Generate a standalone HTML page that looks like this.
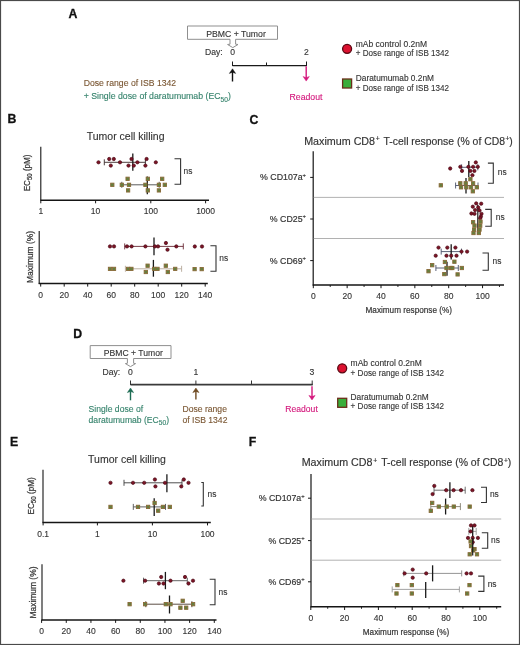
<!DOCTYPE html>
<html><head><meta charset="utf-8"><style>
html,body{margin:0;padding:0;background:#fff;}
svg{display:block;font-family:"Liberation Sans", sans-serif;filter:blur(0.3px);}
</style></head><body>
<svg width="520" height="645" viewBox="0 0 520 645">
<rect width="520" height="645" fill="#fff"/>
<rect x="0.5" y="0.5" width="519" height="644" fill="none" stroke="#4a4a4a" stroke-width="1.2"/>
<text x="68.6" y="17.8" font-size="12.3" fill="#111" stroke="#111" stroke-width="0.3" font-weight="bold">A</text>
<path d="M187.5 26 H277.5 V39.3 H235.6 V44.2 L238.0 44.5 L232.8 47.6 L227.6 44.5 L230.0 44.2 V39.3 H187.5 Z" fill="#fff" stroke="#8f8f8f" stroke-width="1" stroke-linejoin="miter"/>
<text x="236" y="36.5" font-size="8.7" fill="#333" stroke="#333" stroke-width="0.12" text-anchor="middle">PBMC + Tumor</text>
<text x="205" y="55.4" font-size="8.6" fill="#333" stroke="#333" stroke-width="0.12">Day:</text>
<text x="232.6" y="55.4" font-size="8.6" fill="#333" stroke="#333" stroke-width="0.12" text-anchor="middle">0</text>
<text x="306.5" y="55.4" font-size="8.6" fill="#333" stroke="#333" stroke-width="0.12" text-anchor="middle">2</text>
<line x1="232.5" y1="65.6" x2="306.5" y2="65.6" stroke="#1a1a1a" stroke-width="1.3"/>
<line x1="232.5" y1="61.5" x2="232.5" y2="66" stroke="#1a1a1a" stroke-width="1"/>
<line x1="266.5" y1="62.5" x2="266.5" y2="66" stroke="#1a1a1a" stroke-width="1"/>
<line x1="306.5" y1="61.5" x2="306.5" y2="66" stroke="#1a1a1a" stroke-width="1"/>
<line x1="232.5" y1="81.5" x2="232.5" y2="71.89999999999999" stroke="#111" stroke-width="1.4"/>
<path d="M232.5 68.8 L229.4 73.39999999999999 L232.5 72.2 L235.6 73.39999999999999 Z" fill="#111" stroke="#111" stroke-width="0.5" stroke-linejoin="miter"/>
<line x1="306.2" y1="66.3" x2="306.2" y2="78.0" stroke="#d4177c" stroke-width="1.4"/>
<path d="M306.2 81.1 L303.09999999999997 76.5 L306.2 77.69999999999999 L309.3 76.5 Z" fill="#d4177c" stroke="#d4177c" stroke-width="0.5" stroke-linejoin="miter"/>
<text x="289.6" y="99.8" font-size="8.7" fill="#d4177c" stroke="#d4177c" stroke-width="0.12">Readout</text>
<text x="83.7" y="85.8" font-size="8.9" fill="#7a5632" stroke="#7a5632" stroke-width="0.12" textLength="92.5" lengthAdjust="spacingAndGlyphs">Dose range of ISB 1342</text>
<text x="83.7" y="99.4" font-size="8.75" fill="#35836c" stroke="#35836c" stroke-width="0.12">+ Single dose of daratumumab (EC<tspan font-size="6.6" dy="2.1">50</tspan><tspan dy="-2.1">)</tspan></text>
<circle cx="347.1" cy="48.8" r="4.5" fill="#dc1230" stroke="#5a0812" stroke-width="1.3"/>
<rect x="342.6" y="79.0" width="9" height="9" fill="#3aae3a" stroke="#6a2e1a" stroke-width="1.3"/>
<text x="355.8" y="46.5" font-size="8.5" fill="#333" stroke="#333" stroke-width="0.12" textLength="71.3" lengthAdjust="spacingAndGlyphs">mAb control 0.2nM</text>
<text x="355.8" y="56.4" font-size="8.5" fill="#333" stroke="#333" stroke-width="0.12" textLength="93.3" lengthAdjust="spacingAndGlyphs">+ Dose range of ISB 1342</text>
<text x="355.8" y="80.6" font-size="8.5" fill="#333" stroke="#333" stroke-width="0.12" textLength="78.2" lengthAdjust="spacingAndGlyphs">Daratumumab 0.2nM</text>
<text x="355.8" y="90.5" font-size="8.5" fill="#333" stroke="#333" stroke-width="0.12" textLength="93.3" lengthAdjust="spacingAndGlyphs">+ Dose range of ISB 1342</text>
<text x="7.5" y="122.8" font-size="12.3" fill="#111" stroke="#111" stroke-width="0.3" font-weight="bold">B</text>
<text x="86.7" y="140" font-size="10.5" fill="#333" stroke="#333" stroke-width="0.12">Tumor cell killing</text>
<line x1="40.8" y1="146.8" x2="40.8" y2="200.5" stroke="#151515" stroke-width="1.1"/>
<line x1="40.3" y1="200.3" x2="209" y2="200.3" stroke="#151515" stroke-width="1.5"/>
<line x1="40.8" y1="200.3" x2="40.8" y2="203.3" stroke="#151515" stroke-width="1"/>
<text x="40.8" y="214.2" font-size="8.5" fill="#333" stroke="#333" stroke-width="0.12" text-anchor="middle">1</text>
<line x1="95.6" y1="200.3" x2="95.6" y2="203.3" stroke="#151515" stroke-width="1"/>
<text x="95.6" y="214.2" font-size="8.5" fill="#333" stroke="#333" stroke-width="0.12" text-anchor="middle">10</text>
<line x1="150.8" y1="200.3" x2="150.8" y2="203.3" stroke="#151515" stroke-width="1"/>
<text x="150.8" y="214.2" font-size="8.5" fill="#333" stroke="#333" stroke-width="0.12" text-anchor="middle">100</text>
<line x1="205.6" y1="200.3" x2="205.6" y2="203.3" stroke="#151515" stroke-width="1"/>
<text x="205.6" y="214.2" font-size="8.5" fill="#333" stroke="#333" stroke-width="0.12" text-anchor="middle">1000</text>
<text transform="translate(29.8,172.9) rotate(-90)" font-size="8.8" fill="#333" stroke="#333" stroke-width="0.22" text-anchor="middle" textLength="36.8" lengthAdjust="spacingAndGlyphs">EC<tspan font-size="6.6" dy="2.1">50</tspan><tspan dy="-2.1"> (pM)</tspan></text>
<line x1="104.3" y1="162.3" x2="145.4" y2="162.3" stroke="#3a2a2a" stroke-width="0.9"/>
<line x1="104.3" y1="159.3" x2="104.3" y2="165.3" stroke="#3a2a2a" stroke-width="0.9"/>
<line x1="145.4" y1="159.3" x2="145.4" y2="165.3" stroke="#3a2a2a" stroke-width="0.9"/>
<line x1="132.8" y1="153.4" x2="132.8" y2="170.8" stroke="#1a1a1a" stroke-width="1.3"/>
<circle cx="98.5" cy="162.3" r="1.65" fill="#7d1426" stroke="#4a0a16" stroke-width="0.7"/>
<circle cx="109.2" cy="159" r="1.65" fill="#7d1426" stroke="#4a0a16" stroke-width="0.7"/>
<circle cx="113.8" cy="159" r="1.65" fill="#7d1426" stroke="#4a0a16" stroke-width="0.7"/>
<circle cx="110.8" cy="165.6" r="1.65" fill="#7d1426" stroke="#4a0a16" stroke-width="0.7"/>
<circle cx="120" cy="162.3" r="1.65" fill="#7d1426" stroke="#4a0a16" stroke-width="0.7"/>
<circle cx="128.5" cy="165.6" r="1.65" fill="#7d1426" stroke="#4a0a16" stroke-width="0.7"/>
<circle cx="131.5" cy="159" r="1.65" fill="#7d1426" stroke="#4a0a16" stroke-width="0.7"/>
<circle cx="133.8" cy="165.6" r="1.65" fill="#7d1426" stroke="#4a0a16" stroke-width="0.7"/>
<circle cx="137.4" cy="162.3" r="1.65" fill="#7d1426" stroke="#4a0a16" stroke-width="0.7"/>
<circle cx="146.6" cy="159" r="1.65" fill="#7d1426" stroke="#4a0a16" stroke-width="0.7"/>
<circle cx="145.4" cy="165.6" r="1.65" fill="#7d1426" stroke="#4a0a16" stroke-width="0.7"/>
<circle cx="155.8" cy="162.3" r="1.65" fill="#7d1426" stroke="#4a0a16" stroke-width="0.7"/>
<line x1="121.8" y1="184.8" x2="159.2" y2="184.8" stroke="#4a4a4a" stroke-width="0.9"/>
<line x1="121.8" y1="181.8" x2="121.8" y2="187.8" stroke="#4a4a4a" stroke-width="0.9"/>
<line x1="159.2" y1="181.8" x2="159.2" y2="187.8" stroke="#4a4a4a" stroke-width="0.9"/>
<line x1="147.3" y1="176.4" x2="147.3" y2="194.2" stroke="#1a1a1a" stroke-width="1.3"/>
<rect x="110.65" y="183.15" width="3.3" height="3.3" fill="#64803f" stroke="#8a6a38" stroke-width="0.9"/>
<rect x="120.15" y="183.15" width="3.3" height="3.3" fill="#64803f" stroke="#8a6a38" stroke-width="0.9"/>
<rect x="127.35" y="183.15" width="3.3" height="3.3" fill="#64803f" stroke="#8a6a38" stroke-width="0.9"/>
<rect x="125.95" y="177.15" width="3.3" height="3.3" fill="#64803f" stroke="#8a6a38" stroke-width="0.9"/>
<rect x="126.45" y="188.75" width="3.3" height="3.3" fill="#64803f" stroke="#8a6a38" stroke-width="0.9"/>
<rect x="143.75" y="183.15" width="3.3" height="3.3" fill="#64803f" stroke="#8a6a38" stroke-width="0.9"/>
<rect x="146.15" y="177.15" width="3.3" height="3.3" fill="#64803f" stroke="#8a6a38" stroke-width="0.9"/>
<rect x="146.15" y="188.75" width="3.3" height="3.3" fill="#64803f" stroke="#8a6a38" stroke-width="0.9"/>
<rect x="157.25" y="183.15" width="3.3" height="3.3" fill="#64803f" stroke="#8a6a38" stroke-width="0.9"/>
<rect x="160.55" y="177.15" width="3.3" height="3.3" fill="#64803f" stroke="#8a6a38" stroke-width="0.9"/>
<rect x="163.15" y="183.15" width="3.3" height="3.3" fill="#64803f" stroke="#8a6a38" stroke-width="0.9"/>
<rect x="157.25" y="188.75" width="3.3" height="3.3" fill="#64803f" stroke="#8a6a38" stroke-width="0.9"/>
<path d="M174.5 158.7 H180.6 V184.3 H174.5" fill="none" stroke="#333" stroke-width="1.1"/>
<text x="183.5" y="173.9" font-size="8.4" fill="#333" stroke="#333" stroke-width="0.12">ns</text>
<line x1="39.2" y1="231" x2="39.2" y2="284" stroke="#151515" stroke-width="1.1"/>
<line x1="38.7" y1="283.6" x2="207.8" y2="283.6" stroke="#151515" stroke-width="1.5"/>
<line x1="40.7" y1="283.6" x2="40.7" y2="286.6" stroke="#151515" stroke-width="1"/>
<text x="40.7" y="297.6" font-size="8.5" fill="#333" stroke="#333" stroke-width="0.12" text-anchor="middle">0</text>
<line x1="64.2" y1="283.6" x2="64.2" y2="286.6" stroke="#151515" stroke-width="1"/>
<text x="64.2" y="297.6" font-size="8.5" fill="#333" stroke="#333" stroke-width="0.12" text-anchor="middle">20</text>
<line x1="87.7" y1="283.6" x2="87.7" y2="286.6" stroke="#151515" stroke-width="1"/>
<text x="87.7" y="297.6" font-size="8.5" fill="#333" stroke="#333" stroke-width="0.12" text-anchor="middle">40</text>
<line x1="111.2" y1="283.6" x2="111.2" y2="286.6" stroke="#151515" stroke-width="1"/>
<text x="111.2" y="297.6" font-size="8.5" fill="#333" stroke="#333" stroke-width="0.12" text-anchor="middle">60</text>
<line x1="134.7" y1="283.6" x2="134.7" y2="286.6" stroke="#151515" stroke-width="1"/>
<text x="134.7" y="297.6" font-size="8.5" fill="#333" stroke="#333" stroke-width="0.12" text-anchor="middle">80</text>
<line x1="158.2" y1="283.6" x2="158.2" y2="286.6" stroke="#151515" stroke-width="1"/>
<text x="158.2" y="297.6" font-size="8.5" fill="#333" stroke="#333" stroke-width="0.12" text-anchor="middle">100</text>
<line x1="181.7" y1="283.6" x2="181.7" y2="286.6" stroke="#151515" stroke-width="1"/>
<text x="181.7" y="297.6" font-size="8.5" fill="#333" stroke="#333" stroke-width="0.12" text-anchor="middle">120</text>
<line x1="205.2" y1="283.6" x2="205.2" y2="286.6" stroke="#151515" stroke-width="1"/>
<text x="205.2" y="297.6" font-size="8.5" fill="#333" stroke="#333" stroke-width="0.12" text-anchor="middle">140</text>
<text transform="translate(33.1,256.9) rotate(-90)" font-size="9.3" fill="#333" stroke="#333" stroke-width="0.22" text-anchor="middle" textLength="52" lengthAdjust="spacingAndGlyphs">Maximum (%)</text>
<line x1="124.7" y1="246.4" x2="183.3" y2="246.4" stroke="#6a2a35" stroke-width="0.9"/>
<line x1="124.7" y1="243.4" x2="124.7" y2="249.4" stroke="#6a2a35" stroke-width="0.9"/>
<line x1="183.3" y1="243.4" x2="183.3" y2="249.4" stroke="#6a2a35" stroke-width="0.9"/>
<line x1="154" y1="237.4" x2="154" y2="255.2" stroke="#1a1a1a" stroke-width="1.3"/>
<circle cx="110" cy="246.4" r="1.65" fill="#7d1426" stroke="#4a0a16" stroke-width="0.7"/>
<circle cx="114" cy="246.4" r="1.65" fill="#7d1426" stroke="#4a0a16" stroke-width="0.7"/>
<circle cx="127" cy="246.4" r="1.65" fill="#7d1426" stroke="#4a0a16" stroke-width="0.7"/>
<circle cx="131.6" cy="246.4" r="1.65" fill="#7d1426" stroke="#4a0a16" stroke-width="0.7"/>
<circle cx="145.4" cy="246.4" r="1.65" fill="#7d1426" stroke="#4a0a16" stroke-width="0.7"/>
<circle cx="154.9" cy="246.4" r="1.65" fill="#7d1426" stroke="#4a0a16" stroke-width="0.7"/>
<circle cx="158" cy="246.4" r="1.65" fill="#7d1426" stroke="#4a0a16" stroke-width="0.7"/>
<circle cx="165.9" cy="243" r="1.65" fill="#7d1426" stroke="#4a0a16" stroke-width="0.7"/>
<circle cx="167.5" cy="249.7" r="1.65" fill="#7d1426" stroke="#4a0a16" stroke-width="0.7"/>
<circle cx="176.3" cy="246.4" r="1.65" fill="#7d1426" stroke="#4a0a16" stroke-width="0.7"/>
<circle cx="194.8" cy="246.5" r="1.65" fill="#7d1426" stroke="#4a0a16" stroke-width="0.7"/>
<circle cx="202" cy="246.5" r="1.65" fill="#7d1426" stroke="#4a0a16" stroke-width="0.7"/>
<line x1="125.4" y1="268.8" x2="181.6" y2="268.8" stroke="#b5a898" stroke-width="0.9"/>
<line x1="125.4" y1="265.8" x2="125.4" y2="271.8" stroke="#b5a898" stroke-width="0.9"/>
<line x1="181.6" y1="265.8" x2="181.6" y2="271.8" stroke="#b5a898" stroke-width="0.9"/>
<line x1="153.4" y1="259.9" x2="153.4" y2="276.7" stroke="#1a1a1a" stroke-width="1.3"/>
<rect x="108.35" y="267.25" width="3.3" height="3.3" fill="#64803f" stroke="#8a6a38" stroke-width="0.9"/>
<rect x="112.35" y="267.25" width="3.3" height="3.3" fill="#64803f" stroke="#8a6a38" stroke-width="0.9"/>
<rect x="126.45" y="267.25" width="3.3" height="3.3" fill="#64803f" stroke="#8a6a38" stroke-width="0.9"/>
<rect x="129.75" y="267.25" width="3.3" height="3.3" fill="#64803f" stroke="#8a6a38" stroke-width="0.9"/>
<rect x="145.95" y="264.05" width="3.3" height="3.3" fill="#64803f" stroke="#8a6a38" stroke-width="0.9"/>
<rect x="144.15" y="270.35" width="3.3" height="3.3" fill="#64803f" stroke="#8a6a38" stroke-width="0.9"/>
<rect x="152.55" y="267.25" width="3.3" height="3.3" fill="#64803f" stroke="#8a6a38" stroke-width="0.9"/>
<rect x="155.85" y="267.25" width="3.3" height="3.3" fill="#64803f" stroke="#8a6a38" stroke-width="0.9"/>
<rect x="164.15" y="264.05" width="3.3" height="3.3" fill="#64803f" stroke="#8a6a38" stroke-width="0.9"/>
<rect x="166.15" y="270.35" width="3.3" height="3.3" fill="#64803f" stroke="#8a6a38" stroke-width="0.9"/>
<rect x="173.55" y="267.25" width="3.3" height="3.3" fill="#64803f" stroke="#8a6a38" stroke-width="0.9"/>
<rect x="192.95" y="267.45" width="3.3" height="3.3" fill="#64803f" stroke="#8a6a38" stroke-width="0.9"/>
<rect x="200.05" y="267.45" width="3.3" height="3.3" fill="#64803f" stroke="#8a6a38" stroke-width="0.9"/>
<path d="M210.4 245.8 H216 V271.3 H210.4" fill="none" stroke="#333" stroke-width="1.1"/>
<text x="219.3" y="261.4" font-size="8.4" fill="#333" stroke="#333" stroke-width="0.12">ns</text>
<text x="249.5" y="123.8" font-size="12.3" fill="#111" stroke="#111" stroke-width="0.3" font-weight="bold">C</text>
<text x="304.2" y="145.1" font-size="10.7" fill="#333" stroke="#333" stroke-width="0.16" textLength="75.6" lengthAdjust="spacingAndGlyphs">Maximum CD8<tspan font-size="6.8" dy="-3.8" dx="0.7">+</tspan><tspan dy="3.8"></tspan></text>
<text x="383.6" y="145.1" font-size="10.7" fill="#333" stroke="#333" stroke-width="0.16" textLength="129.2" lengthAdjust="spacingAndGlyphs">T-cell response (% of CD8<tspan font-size="6.8" dy="-3.8" dx="0.5">+</tspan><tspan dy="3.8">)</tspan></text>
<line x1="313.2" y1="151.3" x2="313.2" y2="285.5" stroke="#151515" stroke-width="1.2"/>
<line x1="312.7" y1="285" x2="504" y2="285" stroke="#151515" stroke-width="1.5"/>
<line x1="313.3" y1="285" x2="313.3" y2="288.2" stroke="#151515" stroke-width="1"/>
<text x="313.3" y="298.7" font-size="8.5" fill="#333" stroke="#333" stroke-width="0.12" text-anchor="middle">0</text>
<line x1="330.225" y1="285" x2="330.225" y2="287" stroke="#151515" stroke-width="0.9"/>
<line x1="347.15000000000003" y1="285" x2="347.15000000000003" y2="288.2" stroke="#151515" stroke-width="1"/>
<text x="347.15000000000003" y="298.7" font-size="8.5" fill="#333" stroke="#333" stroke-width="0.12" text-anchor="middle">20</text>
<line x1="364.07500000000005" y1="285" x2="364.07500000000005" y2="287" stroke="#151515" stroke-width="0.9"/>
<line x1="381.0" y1="285" x2="381.0" y2="288.2" stroke="#151515" stroke-width="1"/>
<text x="381.0" y="298.7" font-size="8.5" fill="#333" stroke="#333" stroke-width="0.12" text-anchor="middle">40</text>
<line x1="397.925" y1="285" x2="397.925" y2="287" stroke="#151515" stroke-width="0.9"/>
<line x1="414.85" y1="285" x2="414.85" y2="288.2" stroke="#151515" stroke-width="1"/>
<text x="414.85" y="298.7" font-size="8.5" fill="#333" stroke="#333" stroke-width="0.12" text-anchor="middle">60</text>
<line x1="431.77500000000003" y1="285" x2="431.77500000000003" y2="287" stroke="#151515" stroke-width="0.9"/>
<line x1="448.70000000000005" y1="285" x2="448.70000000000005" y2="288.2" stroke="#151515" stroke-width="1"/>
<text x="448.70000000000005" y="298.7" font-size="8.5" fill="#333" stroke="#333" stroke-width="0.12" text-anchor="middle">80</text>
<line x1="465.625" y1="285" x2="465.625" y2="287" stroke="#151515" stroke-width="0.9"/>
<line x1="482.55" y1="285" x2="482.55" y2="288.2" stroke="#151515" stroke-width="1"/>
<text x="482.55" y="298.7" font-size="8.5" fill="#333" stroke="#333" stroke-width="0.12" text-anchor="middle">100</text>
<line x1="499.475" y1="285" x2="499.475" y2="287" stroke="#151515" stroke-width="0.9"/>
<line x1="313.7" y1="197.4" x2="504" y2="197.4" stroke="#a8a8a8" stroke-width="0.9"/>
<line x1="313.7" y1="238.5" x2="504" y2="238.5" stroke="#a8a8a8" stroke-width="0.9"/>
<line x1="310.2" y1="177.4" x2="313.2" y2="177.4" stroke="#151515" stroke-width="1"/>
<text x="306" y="180.3" font-size="8.8" fill="#333" stroke="#333" stroke-width="0.18" text-anchor="end">% CD107a<tspan font-size="5.8" dy="-3.6" dx="0">+</tspan><tspan dy="3.6"></tspan></text>
<line x1="310.2" y1="219" x2="313.2" y2="219" stroke="#151515" stroke-width="1"/>
<text x="306" y="221.9" font-size="8.8" fill="#333" stroke="#333" stroke-width="0.18" text-anchor="end">% CD25<tspan font-size="5.8" dy="-3.6" dx="0">+</tspan><tspan dy="3.6"></tspan></text>
<line x1="310.2" y1="260.6" x2="313.2" y2="260.6" stroke="#151515" stroke-width="1"/>
<text x="306" y="263.5" font-size="8.8" fill="#333" stroke="#333" stroke-width="0.18" text-anchor="end">% CD69<tspan font-size="5.8" dy="-3.6" dx="0">+</tspan><tspan dy="3.6"></tspan></text>
<text x="365.5" y="312.6" font-size="9.5" fill="#333" stroke="#333" stroke-width="0.2" textLength="86.5" lengthAdjust="spacingAndGlyphs">Maximum response (%)</text>
<line x1="461.6" y1="167.3" x2="477.8" y2="167.3" stroke="#4a5068" stroke-width="0.9"/>
<line x1="461.6" y1="164.3" x2="461.6" y2="170.3" stroke="#4a5068" stroke-width="0.9"/>
<line x1="477.8" y1="164.3" x2="477.8" y2="170.3" stroke="#4a5068" stroke-width="0.9"/>
<line x1="468.8" y1="161" x2="468.8" y2="177" stroke="#1a1a1a" stroke-width="1.3"/>
<circle cx="450.2" cy="168.5" r="1.65" fill="#7d1426" stroke="#4a0a16" stroke-width="0.7"/>
<circle cx="460.3" cy="166.8" r="1.65" fill="#7d1426" stroke="#4a0a16" stroke-width="0.7"/>
<circle cx="462" cy="170.9" r="1.65" fill="#7d1426" stroke="#4a0a16" stroke-width="0.7"/>
<circle cx="468.4" cy="166.8" r="1.65" fill="#7d1426" stroke="#4a0a16" stroke-width="0.7"/>
<circle cx="470.4" cy="170.9" r="1.65" fill="#7d1426" stroke="#4a0a16" stroke-width="0.7"/>
<circle cx="473.1" cy="166.8" r="1.65" fill="#7d1426" stroke="#4a0a16" stroke-width="0.7"/>
<circle cx="475.8" cy="162.4" r="1.65" fill="#7d1426" stroke="#4a0a16" stroke-width="0.7"/>
<circle cx="477.8" cy="166.8" r="1.65" fill="#7d1426" stroke="#4a0a16" stroke-width="0.7"/>
<circle cx="474.4" cy="170.9" r="1.65" fill="#7d1426" stroke="#4a0a16" stroke-width="0.7"/>
<circle cx="472.4" cy="175.2" r="1.65" fill="#7d1426" stroke="#4a0a16" stroke-width="0.7"/>
<line x1="455.6" y1="185.5" x2="478" y2="185.5" stroke="#4a5068" stroke-width="0.9"/>
<line x1="455.6" y1="182.5" x2="455.6" y2="188.5" stroke="#4a5068" stroke-width="0.9"/>
<line x1="478" y1="182.5" x2="478" y2="188.5" stroke="#4a5068" stroke-width="0.9"/>
<line x1="466" y1="177.9" x2="466" y2="193.4" stroke="#1a1a1a" stroke-width="1.3"/>
<rect x="439.15" y="183.65" width="3.3" height="3.3" fill="#64803f" stroke="#8a6a38" stroke-width="0.9"/>
<rect x="458.65" y="181.65" width="3.3" height="3.3" fill="#64803f" stroke="#8a6a38" stroke-width="0.9"/>
<rect x="459.35" y="185.65" width="3.3" height="3.3" fill="#64803f" stroke="#8a6a38" stroke-width="0.9"/>
<rect x="464.05" y="181.65" width="3.3" height="3.3" fill="#64803f" stroke="#8a6a38" stroke-width="0.9"/>
<rect x="468.75" y="177.55" width="3.3" height="3.3" fill="#64803f" stroke="#8a6a38" stroke-width="0.9"/>
<rect x="471.45" y="181.65" width="3.3" height="3.3" fill="#64803f" stroke="#8a6a38" stroke-width="0.9"/>
<rect x="469.35" y="185.65" width="3.3" height="3.3" fill="#64803f" stroke="#8a6a38" stroke-width="0.9"/>
<rect x="475.15" y="185.65" width="3.3" height="3.3" fill="#64803f" stroke="#8a6a38" stroke-width="0.9"/>
<rect x="471.15" y="189.65" width="3.3" height="3.3" fill="#64803f" stroke="#8a6a38" stroke-width="0.9"/>
<rect x="464.65" y="185.65" width="3.3" height="3.3" fill="#64803f" stroke="#8a6a38" stroke-width="0.9"/>
<path d="M487.9 163.1 H493.3 V183.3 H487.9" fill="none" stroke="#333" stroke-width="1.1"/>
<text x="497.8" y="174.9" font-size="8.4" fill="#333" stroke="#333" stroke-width="0.12">ns</text>
<line x1="477.8" y1="204.7" x2="477.8" y2="234.3" stroke="#1a1a1a" stroke-width="1.2"/>
<circle cx="476.2" cy="203.4" r="1.65" fill="#7d1426" stroke="#4a0a16" stroke-width="0.7"/>
<circle cx="481.2" cy="203.7" r="1.65" fill="#7d1426" stroke="#4a0a16" stroke-width="0.7"/>
<circle cx="472.8" cy="206.7" r="1.65" fill="#7d1426" stroke="#4a0a16" stroke-width="0.7"/>
<circle cx="478.2" cy="207.4" r="1.65" fill="#7d1426" stroke="#4a0a16" stroke-width="0.7"/>
<circle cx="475.1" cy="210.1" r="1.65" fill="#7d1426" stroke="#4a0a16" stroke-width="0.7"/>
<circle cx="479.5" cy="210.4" r="1.65" fill="#7d1426" stroke="#4a0a16" stroke-width="0.7"/>
<circle cx="471.4" cy="213.5" r="1.65" fill="#7d1426" stroke="#4a0a16" stroke-width="0.7"/>
<circle cx="474.5" cy="213.8" r="1.65" fill="#7d1426" stroke="#4a0a16" stroke-width="0.7"/>
<circle cx="481.5" cy="213.8" r="1.65" fill="#7d1426" stroke="#4a0a16" stroke-width="0.7"/>
<circle cx="480.9" cy="216.5" r="1.65" fill="#7d1426" stroke="#4a0a16" stroke-width="0.7"/>
<circle cx="480.2" cy="218.2" r="1.65" fill="#7d1426" stroke="#4a0a16" stroke-width="0.7"/>
<rect x="471.45" y="220.55" width="3.3" height="3.3" fill="#64803f" stroke="#8a6a38" stroke-width="0.9"/>
<rect x="478.85" y="219.95" width="3.3" height="3.3" fill="#64803f" stroke="#8a6a38" stroke-width="0.9"/>
<rect x="472.85" y="223.95" width="3.3" height="3.3" fill="#64803f" stroke="#8a6a38" stroke-width="0.9"/>
<rect x="478.55" y="223.95" width="3.3" height="3.3" fill="#64803f" stroke="#8a6a38" stroke-width="0.9"/>
<rect x="472.45" y="227.95" width="3.3" height="3.3" fill="#64803f" stroke="#8a6a38" stroke-width="0.9"/>
<rect x="477.85" y="227.95" width="3.3" height="3.3" fill="#64803f" stroke="#8a6a38" stroke-width="0.9"/>
<rect x="471.85" y="231.35" width="3.3" height="3.3" fill="#64803f" stroke="#8a6a38" stroke-width="0.9"/>
<rect x="477.15" y="231.35" width="3.3" height="3.3" fill="#64803f" stroke="#8a6a38" stroke-width="0.9"/>
<path d="M485.2 209.4 H491.2 V226.3 H485.2" fill="none" stroke="#333" stroke-width="1.1"/>
<text x="495.8" y="220.4" font-size="8.4" fill="#333" stroke="#333" stroke-width="0.12">ns</text>
<line x1="441.2" y1="251.6" x2="461.5" y2="251.6" stroke="#4a5068" stroke-width="0.9"/>
<line x1="441.2" y1="248.6" x2="441.2" y2="254.6" stroke="#4a5068" stroke-width="0.9"/>
<line x1="461.5" y1="248.6" x2="461.5" y2="254.6" stroke="#4a5068" stroke-width="0.9"/>
<line x1="451.2" y1="244.2" x2="451.2" y2="259.6" stroke="#1a1a1a" stroke-width="1.3"/>
<circle cx="438.5" cy="247.6" r="1.65" fill="#7d1426" stroke="#4a0a16" stroke-width="0.7"/>
<circle cx="447.3" cy="247.6" r="1.65" fill="#7d1426" stroke="#4a0a16" stroke-width="0.7"/>
<circle cx="455.4" cy="247.6" r="1.65" fill="#7d1426" stroke="#4a0a16" stroke-width="0.7"/>
<circle cx="435.7" cy="255.7" r="1.65" fill="#7d1426" stroke="#4a0a16" stroke-width="0.7"/>
<circle cx="446.5" cy="255.7" r="1.65" fill="#7d1426" stroke="#4a0a16" stroke-width="0.7"/>
<circle cx="451.2" cy="255.7" r="1.65" fill="#7d1426" stroke="#4a0a16" stroke-width="0.7"/>
<circle cx="456.5" cy="255.7" r="1.65" fill="#7d1426" stroke="#4a0a16" stroke-width="0.7"/>
<circle cx="461.5" cy="251.6" r="1.65" fill="#7d1426" stroke="#4a0a16" stroke-width="0.7"/>
<circle cx="467.1" cy="251.6" r="1.65" fill="#7d1426" stroke="#4a0a16" stroke-width="0.7"/>
<line x1="435.9" y1="268" x2="458.3" y2="268" stroke="#4a5068" stroke-width="0.9"/>
<line x1="435.9" y1="265.0" x2="435.9" y2="271.0" stroke="#4a5068" stroke-width="0.9"/>
<line x1="458.3" y1="265.0" x2="458.3" y2="271.0" stroke="#4a5068" stroke-width="0.9"/>
<line x1="447" y1="261.7" x2="447" y2="275.8" stroke="#1a1a1a" stroke-width="1.3"/>
<rect x="443.25" y="260.35" width="3.3" height="3.3" fill="#64803f" stroke="#8a6a38" stroke-width="0.9"/>
<rect x="452.75" y="260.05" width="3.3" height="3.3" fill="#64803f" stroke="#8a6a38" stroke-width="0.9"/>
<rect x="430.55" y="263.55" width="3.3" height="3.3" fill="#64803f" stroke="#8a6a38" stroke-width="0.9"/>
<rect x="426.85" y="269.55" width="3.3" height="3.3" fill="#64803f" stroke="#8a6a38" stroke-width="0.9"/>
<rect x="442.65" y="272.45" width="3.3" height="3.3" fill="#64803f" stroke="#8a6a38" stroke-width="0.9"/>
<rect x="449.05" y="266.35" width="3.3" height="3.3" fill="#64803f" stroke="#8a6a38" stroke-width="0.9"/>
<rect x="450.65" y="266.35" width="3.3" height="3.3" fill="#64803f" stroke="#8a6a38" stroke-width="0.9"/>
<rect x="460.15" y="266.35" width="3.3" height="3.3" fill="#64803f" stroke="#8a6a38" stroke-width="0.9"/>
<rect x="455.95" y="272.75" width="3.3" height="3.3" fill="#64803f" stroke="#8a6a38" stroke-width="0.9"/>
<rect x="444.85" y="266.35" width="3.3" height="3.3" fill="#64803f" stroke="#8a6a38" stroke-width="0.9"/>
<path d="M482.5 253 H488.3 V270.3 H482.5" fill="none" stroke="#333" stroke-width="1.1"/>
<text x="492.6" y="264.0" font-size="8.4" fill="#333" stroke="#333" stroke-width="0.12">ns</text>
<text x="73.3" y="337.5" font-size="12.3" fill="#111" stroke="#111" stroke-width="0.3" font-weight="bold">D</text>
<path d="M90.2 345.6 H171 V358.5 H133.6 V363.3 L135.6 363.6 L130.5 366.6 L125.4 363.6 L127.4 363.3 V358.5 H90.2 Z" fill="#fff" stroke="#8f8f8f" stroke-width="1" stroke-linejoin="miter"/>
<text x="133.3" y="355.8" font-size="8.6" fill="#333" stroke="#333" stroke-width="0.12" text-anchor="middle">PBMC + Tumor</text>
<text x="102.5" y="374.7" font-size="8.6" fill="#333" stroke="#333" stroke-width="0.12">Day:</text>
<text x="130.5" y="374.7" font-size="8.6" fill="#333" stroke="#333" stroke-width="0.12" text-anchor="middle">0</text>
<text x="195.9" y="374.7" font-size="8.6" fill="#333" stroke="#333" stroke-width="0.12" text-anchor="middle">1</text>
<text x="311.8" y="374.7" font-size="8.6" fill="#333" stroke="#333" stroke-width="0.12" text-anchor="middle">3</text>
<line x1="130.5" y1="384.7" x2="312.7" y2="384.7" stroke="#3a3a3a" stroke-width="1.7"/>
<line x1="130.5" y1="380.5" x2="130.5" y2="385" stroke="#333" stroke-width="1"/>
<line x1="195.9" y1="380.5" x2="195.9" y2="385" stroke="#333" stroke-width="1"/>
<line x1="251.5" y1="380.5" x2="251.5" y2="385" stroke="#333" stroke-width="1"/>
<line x1="312.2" y1="380.5" x2="312.2" y2="385" stroke="#333" stroke-width="1"/>
<line x1="130.5" y1="400.3" x2="130.5" y2="391.1" stroke="#1c6b52" stroke-width="1.4"/>
<path d="M130.5 388 L127.4 392.6 L130.5 391.4 L133.6 392.6 Z" fill="#1c6b52" stroke="#1c6b52" stroke-width="0.5" stroke-linejoin="miter"/>
<line x1="195.9" y1="399.5" x2="195.9" y2="391.1" stroke="#6e4a22" stroke-width="1.4"/>
<path d="M195.9 388 L192.8 392.6 L195.9 391.4 L199.0 392.6 Z" fill="#6e4a22" stroke="#6e4a22" stroke-width="0.5" stroke-linejoin="miter"/>
<line x1="312" y1="386.2" x2="312" y2="396.9" stroke="#d4177c" stroke-width="1.4"/>
<path d="M312 400 L308.9 395.4 L312 396.6 L315.1 395.4 Z" fill="#d4177c" stroke="#d4177c" stroke-width="0.5" stroke-linejoin="miter"/>
<text x="88.6" y="412" font-size="8.6" fill="#35836c" stroke="#35836c" stroke-width="0.12">Single dose of</text>
<text x="88.6" y="423" font-size="8.6" fill="#35836c" stroke="#35836c" stroke-width="0.12">daratumumab (EC<tspan font-size="6.6" dy="2.1">50</tspan><tspan dy="-2.1">)</tspan></text>
<text x="182.5" y="412" font-size="8.6" fill="#7a5632" stroke="#7a5632" stroke-width="0.12">Dose range</text>
<text x="182.5" y="423" font-size="8.6" fill="#7a5632" stroke="#7a5632" stroke-width="0.12">of ISB 1342</text>
<text x="285.3" y="412" font-size="8.6" fill="#d4177c" stroke="#d4177c" stroke-width="0.12">Readout</text>
<circle cx="342.2" cy="368.3" r="4.5" fill="#dc1230" stroke="#5a0812" stroke-width="1.3"/>
<rect x="337.7" y="398.3" width="9" height="9" fill="#3aae3a" stroke="#6a2e1a" stroke-width="1.3"/>
<text x="350.6" y="366.2" font-size="8.5" fill="#333" stroke="#333" stroke-width="0.12" textLength="71.3" lengthAdjust="spacingAndGlyphs">mAb control 0.2nM</text>
<text x="350.6" y="375.5" font-size="8.5" fill="#333" stroke="#333" stroke-width="0.12" textLength="93.3" lengthAdjust="spacingAndGlyphs">+ Dose range of ISB 1342</text>
<text x="350.6" y="399.5" font-size="8.5" fill="#333" stroke="#333" stroke-width="0.12" textLength="78.2" lengthAdjust="spacingAndGlyphs">Daratumumab 0.2nM</text>
<text x="350.6" y="409" font-size="8.5" fill="#333" stroke="#333" stroke-width="0.12" textLength="93.3" lengthAdjust="spacingAndGlyphs">+ Dose range of ISB 1342</text>
<text x="9.9" y="445.7" font-size="12.3" fill="#111" stroke="#111" stroke-width="0.3" font-weight="bold">E</text>
<text x="88.1" y="463" font-size="10.5" fill="#333" stroke="#333" stroke-width="0.12">Tumor cell killing</text>
<line x1="43" y1="469.7" x2="43" y2="522.8" stroke="#151515" stroke-width="1.1"/>
<line x1="42.5" y1="522.4" x2="210.8" y2="522.4" stroke="#151515" stroke-width="1.5"/>
<line x1="43.1" y1="522.4" x2="43.1" y2="525.4" stroke="#151515" stroke-width="1"/>
<text x="43.1" y="536.8" font-size="8.5" fill="#333" stroke="#333" stroke-width="0.12" text-anchor="middle">0.1</text>
<line x1="97.4" y1="522.4" x2="97.4" y2="525.4" stroke="#151515" stroke-width="1"/>
<text x="97.4" y="536.8" font-size="8.5" fill="#333" stroke="#333" stroke-width="0.12" text-anchor="middle">1</text>
<line x1="152.4" y1="522.4" x2="152.4" y2="525.4" stroke="#151515" stroke-width="1"/>
<text x="152.4" y="536.8" font-size="8.5" fill="#333" stroke="#333" stroke-width="0.12" text-anchor="middle">10</text>
<line x1="207.5" y1="522.4" x2="207.5" y2="525.4" stroke="#151515" stroke-width="1"/>
<text x="207.5" y="536.8" font-size="8.5" fill="#333" stroke="#333" stroke-width="0.12" text-anchor="middle">100</text>
<text transform="translate(33.5,495.9) rotate(-90)" font-size="8.8" fill="#333" stroke="#333" stroke-width="0.22" text-anchor="middle" textLength="37.3" lengthAdjust="spacingAndGlyphs">EC<tspan font-size="6.6" dy="2.1">50</tspan><tspan dy="-2.1"> (pM)</tspan></text>
<line x1="124" y1="482.8" x2="182" y2="482.8" stroke="#3c3c3c" stroke-width="0.9"/>
<line x1="124" y1="479.8" x2="124" y2="485.8" stroke="#3c3c3c" stroke-width="0.9"/>
<line x1="182" y1="479.8" x2="182" y2="485.8" stroke="#3c3c3c" stroke-width="0.9"/>
<line x1="166.9" y1="474.2" x2="166.9" y2="492.2" stroke="#1a1a1a" stroke-width="1.3"/>
<circle cx="110.5" cy="482.8" r="1.65" fill="#7d1426" stroke="#4a0a16" stroke-width="0.7"/>
<circle cx="133" cy="482.8" r="1.65" fill="#7d1426" stroke="#4a0a16" stroke-width="0.7"/>
<circle cx="144.2" cy="482.8" r="1.65" fill="#7d1426" stroke="#4a0a16" stroke-width="0.7"/>
<circle cx="154.9" cy="479.5" r="1.65" fill="#7d1426" stroke="#4a0a16" stroke-width="0.7"/>
<circle cx="155.4" cy="486.4" r="1.65" fill="#7d1426" stroke="#4a0a16" stroke-width="0.7"/>
<circle cx="165" cy="482.8" r="1.65" fill="#7d1426" stroke="#4a0a16" stroke-width="0.7"/>
<circle cx="183.8" cy="479.5" r="1.65" fill="#7d1426" stroke="#4a0a16" stroke-width="0.7"/>
<circle cx="181.3" cy="486.4" r="1.65" fill="#7d1426" stroke="#4a0a16" stroke-width="0.7"/>
<circle cx="188.5" cy="482.8" r="1.65" fill="#7d1426" stroke="#4a0a16" stroke-width="0.7"/>
<line x1="133.3" y1="506.9" x2="165.5" y2="506.9" stroke="#505050" stroke-width="0.9"/>
<line x1="133.3" y1="503.9" x2="133.3" y2="509.9" stroke="#505050" stroke-width="0.9"/>
<line x1="165.5" y1="503.9" x2="165.5" y2="509.9" stroke="#505050" stroke-width="0.9"/>
<line x1="154.2" y1="498.3" x2="154.2" y2="516" stroke="#1a1a1a" stroke-width="1.3"/>
<rect x="108.85" y="505.25" width="3.3" height="3.3" fill="#64803f" stroke="#8a6a38" stroke-width="0.9"/>
<rect x="136.35" y="505.25" width="3.3" height="3.3" fill="#64803f" stroke="#8a6a38" stroke-width="0.9"/>
<rect x="146.45" y="505.25" width="3.3" height="3.3" fill="#64803f" stroke="#8a6a38" stroke-width="0.9"/>
<rect x="152.95" y="501.35" width="3.3" height="3.3" fill="#64803f" stroke="#8a6a38" stroke-width="0.9"/>
<rect x="156.55" y="509.05" width="3.3" height="3.3" fill="#64803f" stroke="#8a6a38" stroke-width="0.9"/>
<rect x="161.25" y="505.25" width="3.3" height="3.3" fill="#64803f" stroke="#8a6a38" stroke-width="0.9"/>
<rect x="168.15" y="505.25" width="3.3" height="3.3" fill="#64803f" stroke="#8a6a38" stroke-width="0.9"/>
<path d="M201.3 482.5 H203.3 V506 H201.3" fill="none" stroke="#333" stroke-width="1.1"/>
<text x="207.5" y="497.4" font-size="8.4" fill="#333" stroke="#333" stroke-width="0.12">ns</text>
<line x1="42" y1="564.2" x2="42" y2="620.3" stroke="#151515" stroke-width="1.1"/>
<line x1="41.5" y1="619.9" x2="216.5" y2="619.9" stroke="#151515" stroke-width="1.5"/>
<line x1="41.6" y1="619.9" x2="41.6" y2="622.9" stroke="#151515" stroke-width="1"/>
<text x="41.6" y="634" font-size="8.5" fill="#333" stroke="#333" stroke-width="0.12" text-anchor="middle">0</text>
<line x1="66.27000000000001" y1="619.9" x2="66.27000000000001" y2="622.9" stroke="#151515" stroke-width="1"/>
<text x="66.27000000000001" y="634" font-size="8.5" fill="#333" stroke="#333" stroke-width="0.12" text-anchor="middle">20</text>
<line x1="90.94" y1="619.9" x2="90.94" y2="622.9" stroke="#151515" stroke-width="1"/>
<text x="90.94" y="634" font-size="8.5" fill="#333" stroke="#333" stroke-width="0.12" text-anchor="middle">40</text>
<line x1="115.61000000000001" y1="619.9" x2="115.61000000000001" y2="622.9" stroke="#151515" stroke-width="1"/>
<text x="115.61000000000001" y="634" font-size="8.5" fill="#333" stroke="#333" stroke-width="0.12" text-anchor="middle">60</text>
<line x1="140.28" y1="619.9" x2="140.28" y2="622.9" stroke="#151515" stroke-width="1"/>
<text x="140.28" y="634" font-size="8.5" fill="#333" stroke="#333" stroke-width="0.12" text-anchor="middle">80</text>
<line x1="164.95000000000002" y1="619.9" x2="164.95000000000002" y2="622.9" stroke="#151515" stroke-width="1"/>
<text x="164.95000000000002" y="634" font-size="8.5" fill="#333" stroke="#333" stroke-width="0.12" text-anchor="middle">100</text>
<line x1="189.62" y1="619.9" x2="189.62" y2="622.9" stroke="#151515" stroke-width="1"/>
<text x="189.62" y="634" font-size="8.5" fill="#333" stroke="#333" stroke-width="0.12" text-anchor="middle">120</text>
<line x1="214.29" y1="619.9" x2="214.29" y2="622.9" stroke="#151515" stroke-width="1"/>
<text x="214.29" y="634" font-size="8.5" fill="#333" stroke="#333" stroke-width="0.12" text-anchor="middle">140</text>
<text transform="translate(35.6,592.5) rotate(-90)" font-size="9.3" fill="#333" stroke="#333" stroke-width="0.22" text-anchor="middle" textLength="51.9" lengthAdjust="spacingAndGlyphs">Maximum (%)</text>
<line x1="143.5" y1="580.7" x2="187.3" y2="580.7" stroke="#555" stroke-width="0.9"/>
<line x1="143.5" y1="577.7" x2="143.5" y2="583.7" stroke="#555" stroke-width="0.9"/>
<line x1="187.3" y1="577.7" x2="187.3" y2="583.7" stroke="#555" stroke-width="0.9"/>
<line x1="165.4" y1="571.9" x2="165.4" y2="589.2" stroke="#1a1a1a" stroke-width="1.3"/>
<circle cx="123.4" cy="580.7" r="1.65" fill="#7d1426" stroke="#4a0a16" stroke-width="0.7"/>
<circle cx="145.1" cy="580.7" r="1.65" fill="#7d1426" stroke="#4a0a16" stroke-width="0.7"/>
<circle cx="161.2" cy="577" r="1.65" fill="#7d1426" stroke="#4a0a16" stroke-width="0.7"/>
<circle cx="158.9" cy="583.5" r="1.65" fill="#7d1426" stroke="#4a0a16" stroke-width="0.7"/>
<circle cx="163.5" cy="583.5" r="1.65" fill="#7d1426" stroke="#4a0a16" stroke-width="0.7"/>
<circle cx="170.5" cy="580.7" r="1.65" fill="#7d1426" stroke="#4a0a16" stroke-width="0.7"/>
<circle cx="185" cy="577" r="1.65" fill="#7d1426" stroke="#4a0a16" stroke-width="0.7"/>
<circle cx="188.5" cy="583.5" r="1.65" fill="#7d1426" stroke="#4a0a16" stroke-width="0.7"/>
<circle cx="193" cy="580.7" r="1.65" fill="#7d1426" stroke="#4a0a16" stroke-width="0.7"/>
<line x1="145.8" y1="604.2" x2="191.9" y2="604.2" stroke="#4a3a30" stroke-width="0.9"/>
<line x1="145.8" y1="601.2" x2="145.8" y2="607.2" stroke="#4a3a30" stroke-width="0.9"/>
<line x1="191.9" y1="601.2" x2="191.9" y2="607.2" stroke="#4a3a30" stroke-width="0.9"/>
<line x1="169.5" y1="595.5" x2="169.5" y2="613.5" stroke="#1a1a1a" stroke-width="1.3"/>
<rect x="127.95" y="602.55" width="3.3" height="3.3" fill="#64803f" stroke="#8a6a38" stroke-width="0.9"/>
<rect x="143.45" y="602.55" width="3.3" height="3.3" fill="#64803f" stroke="#8a6a38" stroke-width="0.9"/>
<rect x="164.15" y="602.55" width="3.3" height="3.3" fill="#64803f" stroke="#8a6a38" stroke-width="0.9"/>
<rect x="168.85" y="602.55" width="3.3" height="3.3" fill="#64803f" stroke="#8a6a38" stroke-width="0.9"/>
<rect x="181.05" y="599.15" width="3.3" height="3.3" fill="#64803f" stroke="#8a6a38" stroke-width="0.9"/>
<rect x="178.75" y="606.05" width="3.3" height="3.3" fill="#64803f" stroke="#8a6a38" stroke-width="0.9"/>
<rect x="184.55" y="606.05" width="3.3" height="3.3" fill="#64803f" stroke="#8a6a38" stroke-width="0.9"/>
<rect x="191.45" y="602.55" width="3.3" height="3.3" fill="#64803f" stroke="#8a6a38" stroke-width="0.9"/>
<path d="M209.7 579.3 H215 V604.7 H209.7" fill="none" stroke="#333" stroke-width="1.1"/>
<text x="218.5" y="594.6" font-size="8.4" fill="#333" stroke="#333" stroke-width="0.12">ns</text>
<text x="248.7" y="445.8" font-size="12.3" fill="#111" stroke="#111" stroke-width="0.3" font-weight="bold">F</text>
<text x="301.7" y="466.3" font-size="10.7" fill="#333" stroke="#333" stroke-width="0.16" textLength="75.5" lengthAdjust="spacingAndGlyphs">Maximum CD8<tspan font-size="6.8" dy="-3.8" dx="0.7">+</tspan><tspan dy="3.8"></tspan></text>
<text x="381.3" y="466.3" font-size="10.7" fill="#333" stroke="#333" stroke-width="0.16" textLength="130" lengthAdjust="spacingAndGlyphs">T-cell response (% of CD8<tspan font-size="6.8" dy="-3.8" dx="0.5">+</tspan><tspan dy="3.8">)</tspan></text>
<line x1="311" y1="474" x2="311" y2="607.3" stroke="#151515" stroke-width="1.2"/>
<line x1="310.5" y1="606.8" x2="501.2" y2="606.8" stroke="#151515" stroke-width="1.5"/>
<line x1="310.8" y1="606.8" x2="310.8" y2="610.0" stroke="#151515" stroke-width="1"/>
<text x="310.8" y="620.8" font-size="8.5" fill="#333" stroke="#333" stroke-width="0.12" text-anchor="middle">0</text>
<line x1="327.7" y1="606.8" x2="327.7" y2="608.8" stroke="#151515" stroke-width="0.9"/>
<line x1="344.6" y1="606.8" x2="344.6" y2="610.0" stroke="#151515" stroke-width="1"/>
<text x="344.6" y="620.8" font-size="8.5" fill="#333" stroke="#333" stroke-width="0.12" text-anchor="middle">20</text>
<line x1="361.5" y1="606.8" x2="361.5" y2="608.8" stroke="#151515" stroke-width="0.9"/>
<line x1="378.4" y1="606.8" x2="378.4" y2="610.0" stroke="#151515" stroke-width="1"/>
<text x="378.4" y="620.8" font-size="8.5" fill="#333" stroke="#333" stroke-width="0.12" text-anchor="middle">40</text>
<line x1="395.3" y1="606.8" x2="395.3" y2="608.8" stroke="#151515" stroke-width="0.9"/>
<line x1="412.2" y1="606.8" x2="412.2" y2="610.0" stroke="#151515" stroke-width="1"/>
<text x="412.2" y="620.8" font-size="8.5" fill="#333" stroke="#333" stroke-width="0.12" text-anchor="middle">60</text>
<line x1="429.1" y1="606.8" x2="429.1" y2="608.8" stroke="#151515" stroke-width="0.9"/>
<line x1="446.0" y1="606.8" x2="446.0" y2="610.0" stroke="#151515" stroke-width="1"/>
<text x="446.0" y="620.8" font-size="8.5" fill="#333" stroke="#333" stroke-width="0.12" text-anchor="middle">80</text>
<line x1="462.9" y1="606.8" x2="462.9" y2="608.8" stroke="#151515" stroke-width="0.9"/>
<line x1="479.8" y1="606.8" x2="479.8" y2="610.0" stroke="#151515" stroke-width="1"/>
<text x="479.8" y="620.8" font-size="8.5" fill="#333" stroke="#333" stroke-width="0.12" text-anchor="middle">100</text>
<line x1="496.7" y1="606.8" x2="496.7" y2="608.8" stroke="#151515" stroke-width="0.9"/>
<line x1="311.5" y1="519" x2="501.2" y2="519" stroke="#a8a8a8" stroke-width="0.9"/>
<line x1="311.5" y1="560.2" x2="501.2" y2="560.2" stroke="#a8a8a8" stroke-width="0.9"/>
<line x1="308" y1="498.2" x2="311" y2="498.2" stroke="#151515" stroke-width="1"/>
<text x="304.6" y="501.09999999999997" font-size="8.8" fill="#333" stroke="#333" stroke-width="0.18" text-anchor="end">% CD107a<tspan font-size="5.8" dy="-3.6" dx="0">+</tspan><tspan dy="3.6"></tspan></text>
<line x1="308" y1="540.6" x2="311" y2="540.6" stroke="#151515" stroke-width="1"/>
<text x="304.6" y="543.5" font-size="8.8" fill="#333" stroke="#333" stroke-width="0.18" text-anchor="end">% CD25<tspan font-size="5.8" dy="-3.6" dx="0">+</tspan><tspan dy="3.6"></tspan></text>
<line x1="308" y1="581.8" x2="311" y2="581.8" stroke="#151515" stroke-width="1"/>
<text x="304.6" y="584.6999999999999" font-size="8.8" fill="#333" stroke="#333" stroke-width="0.18" text-anchor="end">% CD69<tspan font-size="5.8" dy="-3.6" dx="0">+</tspan><tspan dy="3.6"></tspan></text>
<text x="362.8" y="634.6" font-size="9.5" fill="#333" stroke="#333" stroke-width="0.2" textLength="86.5" lengthAdjust="spacingAndGlyphs">Maximum response (%)</text>
<line x1="434" y1="490.2" x2="465.2" y2="490.2" stroke="#5e5e5e" stroke-width="0.9"/>
<line x1="434" y1="486.7" x2="434" y2="493.7" stroke="#5e5e5e" stroke-width="0.9"/>
<line x1="465.2" y1="486.7" x2="465.2" y2="493.7" stroke="#5e5e5e" stroke-width="0.9"/>
<line x1="449.9" y1="482.2" x2="449.9" y2="497.9" stroke="#1a1a1a" stroke-width="1.3"/>
<circle cx="434.3" cy="485.9" r="1.65" fill="#7d1426" stroke="#4a0a16" stroke-width="0.7"/>
<circle cx="432.6" cy="494.1" r="1.65" fill="#7d1426" stroke="#4a0a16" stroke-width="0.7"/>
<circle cx="446.2" cy="490.2" r="1.65" fill="#7d1426" stroke="#4a0a16" stroke-width="0.7"/>
<circle cx="453.6" cy="490.2" r="1.65" fill="#7d1426" stroke="#4a0a16" stroke-width="0.7"/>
<circle cx="461" cy="490.2" r="1.65" fill="#7d1426" stroke="#4a0a16" stroke-width="0.7"/>
<circle cx="472.4" cy="490.2" r="1.65" fill="#7d1426" stroke="#4a0a16" stroke-width="0.7"/>
<line x1="430.8" y1="506.6" x2="460.4" y2="506.6" stroke="#858070" stroke-width="0.9"/>
<line x1="430.8" y1="503.1" x2="430.8" y2="510.1" stroke="#858070" stroke-width="0.9"/>
<line x1="460.4" y1="503.1" x2="460.4" y2="510.1" stroke="#858070" stroke-width="0.9"/>
<line x1="445.6" y1="498.6" x2="445.6" y2="514.5" stroke="#1a1a1a" stroke-width="1.3"/>
<rect x="430.55" y="501.25" width="3.3" height="3.3" fill="#64803f" stroke="#8a6a38" stroke-width="0.9"/>
<rect x="429.15" y="509.15" width="3.3" height="3.3" fill="#64803f" stroke="#8a6a38" stroke-width="0.9"/>
<rect x="437.15" y="504.95" width="3.3" height="3.3" fill="#64803f" stroke="#8a6a38" stroke-width="0.9"/>
<rect x="445.05" y="504.95" width="3.3" height="3.3" fill="#64803f" stroke="#8a6a38" stroke-width="0.9"/>
<rect x="452.15" y="504.95" width="3.3" height="3.3" fill="#64803f" stroke="#8a6a38" stroke-width="0.9"/>
<rect x="468.05" y="504.95" width="3.3" height="3.3" fill="#64803f" stroke="#8a6a38" stroke-width="0.9"/>
<path d="M481 487.2 H486.4 V502.5 H481" fill="none" stroke="#333" stroke-width="1.1"/>
<text x="489.9" y="496.79999999999995" font-size="8.4" fill="#333" stroke="#333" stroke-width="0.12">ns</text>
<line x1="468.8" y1="531.4" x2="476.2" y2="531.4" stroke="#999" stroke-width="0.9"/>
<line x1="468.8" y1="527.9" x2="468.8" y2="534.9" stroke="#999" stroke-width="0.9"/>
<line x1="476.2" y1="527.9" x2="476.2" y2="534.9" stroke="#999" stroke-width="0.9"/>
<line x1="472.7" y1="525.8" x2="472.7" y2="545" stroke="#1a1a1a" stroke-width="1.3"/>
<circle cx="471" cy="525.4" r="1.65" fill="#7d1426" stroke="#4a0a16" stroke-width="0.7"/>
<circle cx="474.5" cy="525.4" r="1.65" fill="#7d1426" stroke="#4a0a16" stroke-width="0.7"/>
<circle cx="468" cy="537.9" r="1.65" fill="#7d1426" stroke="#4a0a16" stroke-width="0.7"/>
<circle cx="472.7" cy="537.9" r="1.65" fill="#7d1426" stroke="#4a0a16" stroke-width="0.7"/>
<circle cx="477.9" cy="537.9" r="1.65" fill="#7d1426" stroke="#4a0a16" stroke-width="0.7"/>
<circle cx="470.6" cy="531.4" r="1.65" fill="#7d1426" stroke="#4a0a16" stroke-width="0.7"/>
<circle cx="472.7" cy="542.2" r="1.65" fill="#7d1426" stroke="#4a0a16" stroke-width="0.7"/>
<rect x="468.95" y="539.85" width="3.3" height="3.3" fill="#64803f" stroke="#8a6a38" stroke-width="0.9"/>
<rect x="469.35" y="544.45" width="3.3" height="3.3" fill="#64803f" stroke="#8a6a38" stroke-width="0.9"/>
<rect x="472.85" y="547.45" width="3.3" height="3.3" fill="#64803f" stroke="#8a6a38" stroke-width="0.9"/>
<rect x="468.05" y="552.65" width="3.3" height="3.3" fill="#64803f" stroke="#8a6a38" stroke-width="0.9"/>
<rect x="475.35" y="552.65" width="3.3" height="3.3" fill="#64803f" stroke="#8a6a38" stroke-width="0.9"/>
<rect x="471.55" y="548.75" width="3.3" height="3.3" fill="#64803f" stroke="#8a6a38" stroke-width="0.9"/>
<line x1="472.7" y1="538" x2="472.7" y2="555.5" stroke="#1a1a1a" stroke-width="1.2"/>
<path d="M481.8 532.7 H487.7 V548.3 H481.8" fill="none" stroke="#333" stroke-width="1.1"/>
<text x="491.1" y="542.8" font-size="8.4" fill="#333" stroke="#333" stroke-width="0.12">ns</text>
<line x1="403.7" y1="573.4" x2="461.7" y2="573.4" stroke="#888" stroke-width="0.9"/>
<line x1="403.7" y1="570.4" x2="403.7" y2="576.4" stroke="#888" stroke-width="0.9"/>
<line x1="461.7" y1="570.4" x2="461.7" y2="576.4" stroke="#888" stroke-width="0.9"/>
<line x1="432.6" y1="565.3" x2="432.6" y2="581.4" stroke="#1a1a1a" stroke-width="1.3"/>
<circle cx="404.6" cy="573.4" r="1.65" fill="#7d1426" stroke="#4a0a16" stroke-width="0.7"/>
<circle cx="412.7" cy="569.6" r="1.65" fill="#7d1426" stroke="#4a0a16" stroke-width="0.7"/>
<circle cx="412.7" cy="577.7" r="1.65" fill="#7d1426" stroke="#4a0a16" stroke-width="0.7"/>
<circle cx="426.2" cy="573.4" r="1.65" fill="#7d1426" stroke="#4a0a16" stroke-width="0.7"/>
<circle cx="466.6" cy="573.4" r="1.65" fill="#7d1426" stroke="#4a0a16" stroke-width="0.7"/>
<circle cx="471" cy="573.4" r="1.65" fill="#7d1426" stroke="#4a0a16" stroke-width="0.7"/>
<line x1="392.2" y1="589.4" x2="459.4" y2="589.4" stroke="#999" stroke-width="0.9"/>
<line x1="392.2" y1="586.4" x2="392.2" y2="592.4" stroke="#999" stroke-width="0.9"/>
<line x1="459.4" y1="586.4" x2="459.4" y2="592.4" stroke="#999" stroke-width="0.9"/>
<line x1="425.7" y1="581.9" x2="425.7" y2="598.1" stroke="#1a1a1a" stroke-width="1.3"/>
<rect x="395.75" y="583.45" width="3.3" height="3.3" fill="#64803f" stroke="#8a6a38" stroke-width="0.9"/>
<rect x="394.85" y="591.85" width="3.3" height="3.3" fill="#64803f" stroke="#8a6a38" stroke-width="0.9"/>
<rect x="410.15" y="583.45" width="3.3" height="3.3" fill="#64803f" stroke="#8a6a38" stroke-width="0.9"/>
<rect x="410.15" y="591.85" width="3.3" height="3.3" fill="#64803f" stroke="#8a6a38" stroke-width="0.9"/>
<rect x="467.85" y="583.45" width="3.3" height="3.3" fill="#64803f" stroke="#8a6a38" stroke-width="0.9"/>
<rect x="465.55" y="591.85" width="3.3" height="3.3" fill="#64803f" stroke="#8a6a38" stroke-width="0.9"/>
<path d="M478.2 576.1 H483.9 V591.4 H478.2" fill="none" stroke="#333" stroke-width="1.1"/>
<text x="487.7" y="586.6" font-size="8.4" fill="#333" stroke="#333" stroke-width="0.12">ns</text>
</svg>
</body></html>
